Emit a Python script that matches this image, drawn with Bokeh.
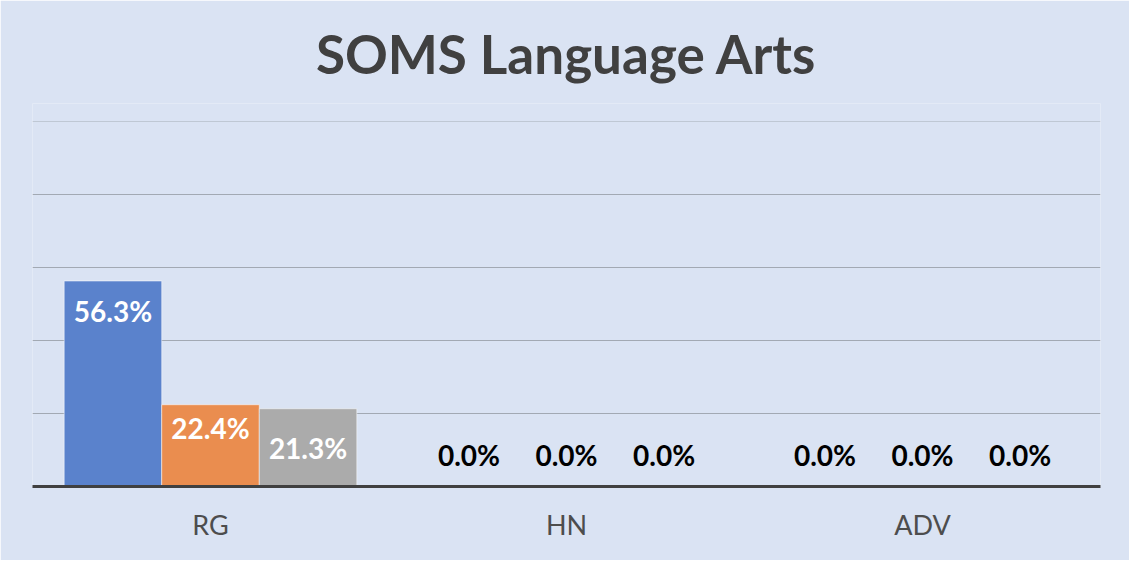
from bokeh.plotting import figure
from bokeh.models import ColumnDataSource, FixedTicker, Grid, LabelSet
from bokeh.transform import dodge
from bokeh.core.properties import value
from bokeh.embed import file_html
from bokeh.resources import INLINE

# ---- data ----
categories = ["RG", "HN", "ADV"]
series_1 = [56.3, 0.0, 0.0]
series_2 = [22.4, 0.0, 0.0]
series_3 = [21.3, 0.0, 0.0]
title_text = "SOMS Language Arts"

# ---- styling ----
BG = "#DAE3F3"
colors = ["#5A82CC", "#EA8D4F", "#ABABAB"]
bar_w = 0.274
offsets = [-bar_w, 0.0, bar_w]
FONT = "Lato"
Y_TOP = 104.93   # small headroom above the 100 % gridline

p = figure(x_range=categories, y_range=(0, Y_TOP),
           frame_width=1068, frame_height=383,
           min_border_left=32, min_border_right=29,
           min_border_top=103, min_border_bottom=74,
           y_axis_location=None,
           output_backend="svg", toolbar_location=None,
           background_fill_color=BG, border_fill_color=BG)
p.outline_line_color = None
p.x_range.range_padding = 0

p.title.text = title_text
p.title.align = "center"
p.title.text_font = FONT
p.title.text_font_size = "53px"
p.title.text_font_style = "bold"
p.title.text_color = "#404040"
p.title.standoff = 38

p.xgrid.grid_line_color = None
p.add_layout(Grid(dimension=1, ticker=FixedTicker(ticks=[20, 40, 60, 80]),
                  grid_line_color="#A2A9B3", grid_line_width=1))
p.add_layout(Grid(dimension=1, ticker=FixedTicker(ticks=[100]),
                  grid_line_color="#BFC8D4", grid_line_width=1))

ax = p.xaxis[0]
ax.axis_line_color = "#404040"
ax.axis_line_width = 3
ax.major_tick_line_color = None
ax.minor_tick_line_color = None
ax.major_tick_in = 0
ax.major_tick_out = 0
ax.major_label_standoff = 21
ax.major_label_text_font = FONT
ax.major_label_text_font_size = "27px"
ax.major_label_text_color = "#4D4D4D"

all_series = [series_1, series_2, series_3]
label_offsets = [[-30, 31.5, 31.5], [-23, 31.5, 31.5], [-39, 31.5, 31.5]]

for vals, col, off, loffs in zip(all_series, colors, offsets, label_offsets):
    texts = ["%.1f%%" % v for v in vals]
    tcolors = ["white" if v > 5 else "black" for v in vals]
    src = ColumnDataSource(dict(cat=categories, val=vals, txt=texts,
                                tc=tcolors, yo=loffs))
    p.vbar(x=dodge("cat", off, range=p.x_range), top="val", width=bar_w,
           source=src, fill_color=col, line_color="white", line_alpha=0.5,
           line_width=1)
    p.add_layout(LabelSet(x=dodge("cat", off, range=p.x_range), y="val",
                          text="txt", y_offset="yo", source=src,
                          text_align="center", text_baseline="middle",
                          text_font=value(FONT), text_font_style="bold",
                          text_font_size="28px", text_color="tc"))

open("out.html", "w").write(file_html(p, INLINE))
